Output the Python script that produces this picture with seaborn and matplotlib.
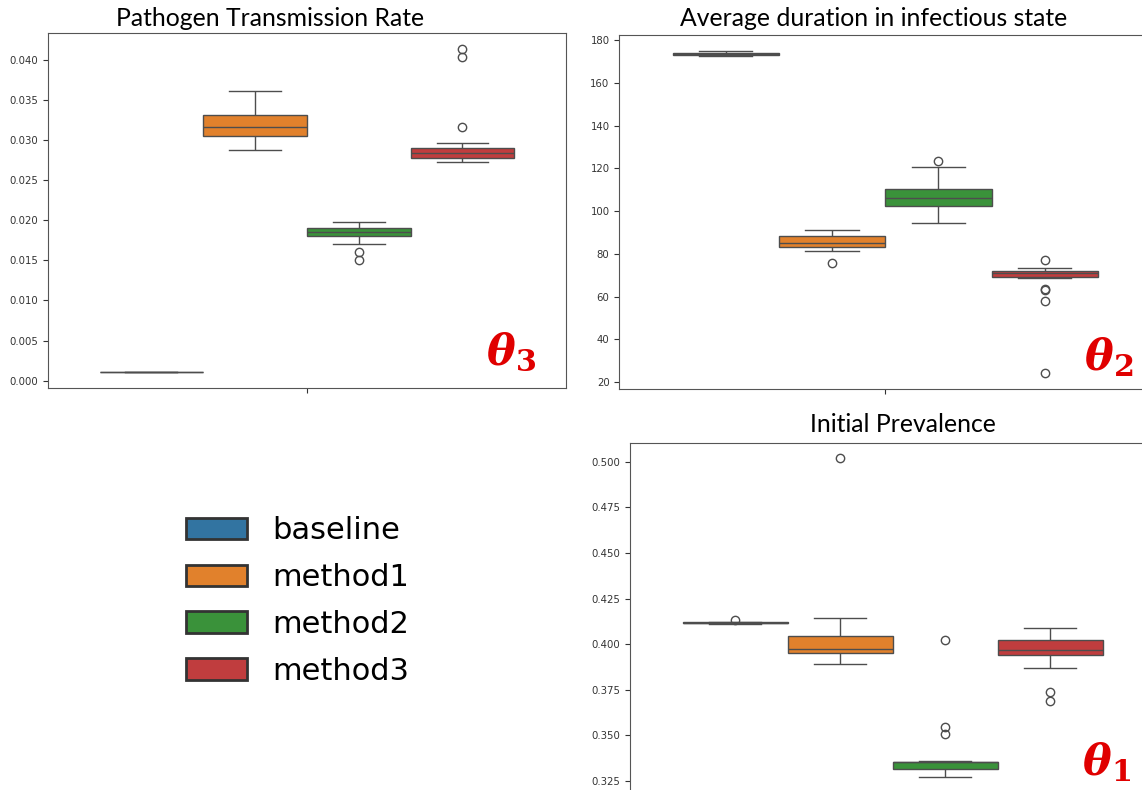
import pandas as pd
import matplotlib
matplotlib.use("Agg")
import matplotlib.pyplot as plt
import seaborn as sns

# groups shown in every panel
methods = ['baseline', 'method1', 'method2', 'method3']

# Pathogen Transmission Rate (theta 3)
rate_baseline = [0.00112, 0.00112, 0.00112, 0.00112, 0.00112, 0.00112, 0.00112, 0.00112, 0.00112]
rate_method1 = [0.0288, 0.0294, 0.0300, 0.0305, 0.0309, 0.0313, 0.0317, 0.0322, 0.0327, 0.0332, 0.0340, 0.0351, 0.0362]
rate_method2 = [0.0150, 0.0161, 0.0170, 0.0180, 0.0182, 0.0184, 0.0185, 0.0187, 0.0189, 0.0190, 0.0193, 0.0196, 0.0198]
rate_method3 = [0.0273, 0.0275, 0.0276, 0.0277, 0.0278, 0.0280, 0.0282, 0.0283, 0.0284, 0.0286, 0.0288, 0.0289,
                0.0290, 0.0297, 0.0316, 0.0404, 0.0414]

# Average duration in infectious state (theta 2)
dur_baseline = [172.5, 172.9, 173.3, 173.6, 173.8, 174.0, 174.2, 174.6, 175.0]
dur_method1 = [75.6, 81.4, 82.5, 83.4, 84.0, 84.6, 85.0, 85.9, 87.0, 88.3, 89.2, 90.3, 91.2]
dur_method2 = [94.5, 97.8, 100.5, 102.3, 104.0, 105.3, 106.4, 107.5, 108.9, 110.3, 113.5, 120.8, 123.3]
dur_method3 = [24.4, 58.1, 63.0, 63.4, 68.8, 69.4, 69.8, 70.2, 70.5, 70.8, 71.1, 71.3, 71.5, 71.7, 71.9, 72.0,
               72.3, 72.6, 72.9, 73.3, 77.3]

# Initial Prevalence (theta 1)
prev_baseline = [0.4112, 0.4113, 0.4114, 0.4115, 0.4116, 0.4116, 0.4117, 0.4117, 0.4118, 0.4119, 0.4120, 0.4121, 0.4130]
prev_method1 = [0.3890, 0.3915, 0.3935, 0.3950, 0.3958, 0.3965, 0.3972, 0.3990, 0.4015, 0.4045, 0.4080, 0.4144, 0.5018]
prev_method2 = [0.3274, 0.3290, 0.3305, 0.3312, 0.3316, 0.3325, 0.3335, 0.3345, 0.3352, 0.3353, 0.3354, 0.3355,
                0.3356, 0.3360, 0.3510, 0.3547, 0.4021]
prev_method3 = [0.3686, 0.3737, 0.3869, 0.3943, 0.3950, 0.3958, 0.3966, 0.3980, 0.4000, 0.4023, 0.4045, 0.4065, 0.4087]

titles = ['Pathogen Transmission Rate', 'Average duration in infectious state', 'Initial Prevalence']
theta_labels = [r'$\mathbfit{\theta}_\mathbf{3}$', r'$\mathbfit{\theta}_\mathbf{2}$', r'$\mathbfit{\theta}_\mathbf{1}$']


def long_form(groups):
    rows = []
    for name, vals in zip(methods, groups):
        for v in vals:
            rows.append({'method': name, 'value': v})
    return pd.DataFrame(rows)


panels = [
    long_form([rate_baseline, rate_method1, rate_method2, rate_method3]),
    long_form([dur_baseline, dur_method1, dur_method2, dur_method3]),
    long_form([prev_baseline, prev_method1, prev_method2, prev_method3]),
]

plt.rcParams['mathtext.fontset'] = 'dejavuserif'

fig = plt.figure(figsize=(11.42, 7.90), dpi=100)
ax1 = fig.add_axes([0.0418, 0.5092, 0.4539, 0.4494])
ax2 = fig.add_axes([0.5423, 0.5080, 0.4658, 0.4477])
ax3 = fig.add_axes([0.5517, -0.0032, 0.4597, 0.4430])
axes = [ax1, ax2, ax3]

handles, labels = None, None
for ax, df in zip(axes, panels):
    sns.boxplot(data=df, y='value', hue='method', hue_order=methods, ax=ax,
                linecolor='#4d4d4d', legend=(ax is ax1))
    if ax is ax1:
        handles, labels = ax.get_legend_handles_labels()
        ax.get_legend().remove()
    ax.set_xlabel('')
    ax.set_ylabel('')
    ax.set_xticks([0])
    ax.set_xticklabels([''])
    ax.tick_params(labelsize=7.3, colors='#333333')
    for s in ax.spines.values():
        s.set_color('#555555')

# titles sit slightly off the axes centres, as in the source figure
fig.text(270 / 1142, 1 - 19 / 790, titles[0], ha='center', va='center', fontsize=17.8, family='Lato')
fig.text(874 / 1142, 1 - 18 / 790, titles[1], ha='center', va='center', fontsize=17.8, family='Lato')
fig.text(903 / 1142, 1 - 424 / 790, titles[2], ha='center', va='center', fontsize=17.8, family='Lato')

# parameter tags
fig.text(536 / 1142, 1 - 373 / 790, theta_labels[0], ha='right', va='bottom', fontsize=31, color='#e00000')
fig.text(1133 / 1142, 1 - 379 / 790, theta_labels[1], ha='right', va='bottom', fontsize=31, color='#e00000')
fig.text(1131 / 1142, 1 - 784 / 790, theta_labels[2], ha='right', va='bottom', fontsize=31, color='#e00000')

for h in handles:
    h.set_edgecolor('#333333')
    h.set_linewidth(2)

fig.legend(handles, labels, loc='center left', bbox_to_anchor=(158 / 1142, 1 - 601 / 790),
           frameon=False, fontsize=22, labelspacing=0.58, handletextpad=0.85)

fig.savefig('out.png', dpi=100)
